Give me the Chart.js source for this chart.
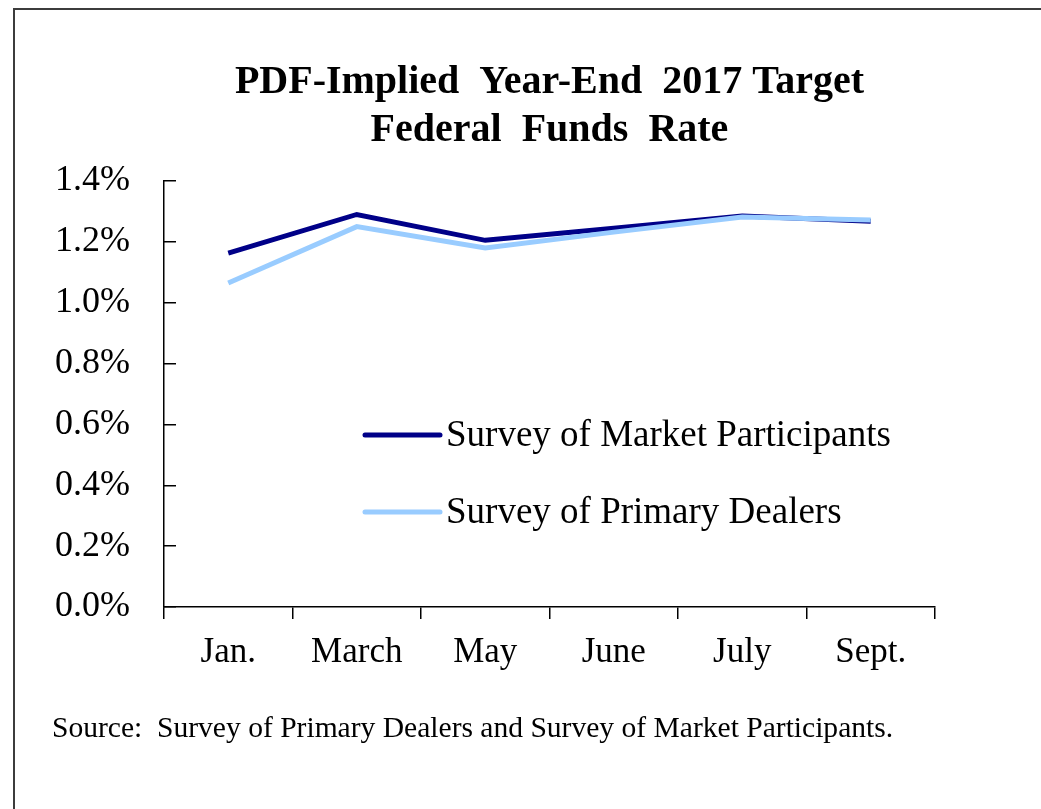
<!DOCTYPE html>
<html>
<head>
<meta charset="utf-8">
<script src="https://cdn.jsdelivr.net/npm/chart.js@4/dist/chart.umd.min.js"></script>
<style>
  html, body { margin: 0; padding: 0; background: #fff; }
  #wrap { position: relative; width: 1041px; height: 809px; overflow: hidden; background: #fff; }
  #frame { position: absolute; left: 13px; top: 8px; width: 1100px; height: 900px;
           border-left: 2px solid #3c3c3c; border-top: 2px solid #3c3c3c; }
  #chart { position: absolute; left: 0; top: 0; }
  #source { position: absolute; left: 52px; top: 712px; font: 30px 'Liberation Serif', 'Times New Roman', serif;
            line-height: 30px; white-space: pre; color: #000; transform-origin: left top; transform: scaleX(0.985); }
</style>
</head>
<body>
<div id="wrap">
  <div id="frame"></div>
  <canvas id="chart" width="1041" height="809"></canvas>
  <div id="source">Source:  Survey of Primary Dealers and Survey of Market Participants.</div>
</div>
<script>
const months = ['Jan.', 'March', 'May', 'June', 'July', 'Sept.'];
const marketParticipants = [1.163, 1.290, 1.205, 1.245, 1.285, 1.268];
const primaryDealers = [1.065, 1.250, 1.180, 1.232, 1.282, 1.272];
const seriesNames = ['Survey of Market Participants', 'Survey of Primary Dealers'];
const titleLines = ['PDF-Implied  Year-End  2017 Target', 'Federal  Funds  Rate'];

const colors = {
    navy: '#000088',
    lightBlue: '#99ccff',
    axis: '#000000',
    text: '#000000'
};

const serif = "'Liberation Serif', 'Times New Roman', serif";

// legend drawn inside the plot, like the original
const innerLegend = {
    id: 'innerLegend',
    afterDatasetsDraw(chart) {
        const { ctx, chartArea } = chart;
        const x0 = chartArea.left + 201;
        const x1 = chartArea.left + 276;
        const rows = [254, 331];
        ctx.save();
        ctx.font = '37px ' + serif;
        ctx.textBaseline = 'middle';
        ctx.textAlign = 'left';
        chart.data.datasets.forEach((ds, i) => {
            const y = chartArea.top + rows[i];
            ctx.strokeStyle = ds.borderColor;
            ctx.lineWidth = 5;
            ctx.lineCap = 'round';
            ctx.beginPath();
            ctx.moveTo(x0, y);
            ctx.lineTo(x1, y);
            ctx.stroke();
            ctx.fillStyle = colors.text;
            ctx.fillText(ds.label, x1 + 6, y + 1);
        });
        ctx.restore();
    }
};

new Chart(document.getElementById('chart').getContext('2d'), {
    type: 'line',
    data: {
        labels: months,
        datasets: [
            {
                label: seriesNames[0],
                data: marketParticipants,
                borderColor: colors.navy,
                backgroundColor: colors.navy,
                borderWidth: 5,
                pointRadius: 0,
                tension: 0,
                order: 1
            },
            {
                label: seriesNames[1],
                data: primaryDealers,
                borderColor: colors.lightBlue,
                backgroundColor: colors.lightBlue,
                borderWidth: 5,
                pointRadius: 0,
                tension: 0,
                order: 0
            }
        ]
    },
    options: {
        responsive: false,
        animation: false,
        layout: { padding: { left: 14, right: 106, top: 59, bottom: 122 } },
        plugins: {
            legend: { display: false },
            tooltip: { enabled: false },
            title: {
                display: true,
                fullSize: false,
                text: titleLines,
                color: colors.text,
                font: { family: serif, size: 40, weight: 'bold', lineHeight: 48 / 40 },
                padding: { top: 0, bottom: 26 }
            }
        },
        scales: {
            x: {
                offset: true,
                grid: { display: true, offset: true, drawOnChartArea: false, drawTicks: true,
                        tickLength: 12, color: colors.axis, lineWidth: 1.5 },
                border: { display: true, color: colors.axis, width: 1.5 },
                ticks: { color: colors.text, font: { family: serif, size: 35 }, padding: 13,
                         maxRotation: 0, autoSkip: false },
                afterFit(scale) { scale.height = 80; }
            },
            y: {
                min: 0,
                max: 1.4,
                grid: { display: true, drawOnChartArea: false, drawTicks: true,
                        tickLength: -12, color: colors.axis, lineWidth: 1.5 },
                border: { display: true, color: colors.axis, width: 1.5 },
                ticks: {
                    stepSize: 0.2,
                    color: colors.text,
                    font: { family: serif, size: 36 },
                    padding: 46,
                    callback: v => v.toFixed(1) + '%'
                },
                afterFit(scale) { scale.width = 150; }
            }
        }
    },
    plugins: [innerLegend]
});
</script>
</body>
</html>
